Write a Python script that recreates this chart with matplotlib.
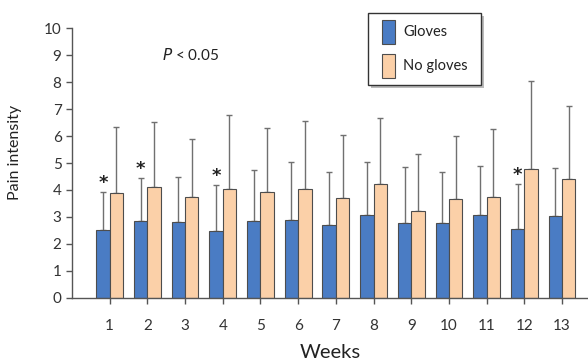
import numpy as np
import matplotlib.pyplot as plt
from matplotlib.patches import Rectangle

weeks = [1, 2, 3, 4, 5, 6, 7, 8, 9, 10, 11, 12, 13]
gloves = [2.51, 2.85, 2.82, 2.49, 2.85, 2.88, 2.69, 3.06, 2.78, 2.78, 3.07, 2.55, 3.02]
gloves_err = [1.42, 1.58, 1.67, 1.68, 1.88, 2.15, 1.98, 1.99, 2.08, 1.89, 1.82, 1.67, 1.81]
no_gloves = [3.87, 4.11, 3.73, 4.05, 3.91, 4.05, 3.69, 4.22, 3.23, 3.65, 3.75, 4.78, 4.41]
no_gloves_err = [2.48, 2.42, 2.15, 2.73, 2.40, 2.52, 2.35, 2.45, 2.12, 2.36, 2.51, 3.28, 2.71]
signif = [1, 2, 4, 12]

plt.rcParams['font.family'] = ['Lato', 'DejaVu Sans']

fig = plt.figure(figsize=(5.88, 3.62), dpi=100)
ax = fig.add_axes([0.1224, 0.1776, 0.8776, 0.744])

x = np.array(weeks)
w = 0.355
blue = '#4a7cc4'
orange = '#fbd0a8'
edge = '#4d4d4d'

ax.bar(x - w/2, gloves, w, color=blue, edgecolor=edge, linewidth=0.8, zorder=2)
ax.bar(x + w/2, no_gloves, w, color=orange, edgecolor=edge, linewidth=0.8, zorder=2)
ax.errorbar(x - w/2, gloves, yerr=[np.zeros(len(x)), gloves_err], fmt='none',
            ecolor='#707070', elinewidth=1, capsize=2, capthick=1, zorder=1)
ax.errorbar(x + w/2, no_gloves, yerr=[np.zeros(len(x)), no_gloves_err], fmt='none',
            ecolor='#707070', elinewidth=1, capsize=2, capthick=1, zorder=1)

for wk in signif:
    i = weeks.index(wk)
    ax.text(wk - w/2, gloves[i] + gloves_err[i] + 0.34, '*', ha='center', va='center',
            fontsize=13, fontweight='bold', color='#222222', family='DejaVu Sans')

ax.text(2.39, 9.0, '$\\it{P}$ < 0.05', fontsize=11, color='#222222', va='center')

ax.set_xlim(0, 13.69)
ax.set_ylim(0, 10)
ax.set_xticks(weeks)
ax.set_yticks(range(0, 11))
ax.tick_params(axis='both', colors='#555555', labelcolor='#333333', labelsize=11,
               length=4, width=1)
ax.tick_params(axis='x', pad=11)
for s in ['top', 'right']:
    ax.spines[s].set_visible(False)
for s in ['left', 'bottom']:
    ax.spines[s].set_color('#555555')
    ax.spines[s].set_linewidth(1)

ax.set_ylabel('Pain intensity', fontsize=11.5, color='#222222')
ax.yaxis.set_label_coords(-0.097, 0.54)
ax.set_xlabel('Weeks', fontsize=14.5, color='#222222')
ax.xaxis.set_label_coords(0.5, -0.172)

# legend box with shadow
lx, ly, lw, lh = 368/588, 1 - 85/362, 113/588, 72/362
fig.patches.append(Rectangle((lx + 3/588, ly - 3/362), lw, lh, transform=fig.transFigure,
                             facecolor='#bbbbbb', edgecolor='none', zorder=3))
fig.patches.append(Rectangle((lx, ly), lw, lh, transform=fig.transFigure,
                             facecolor='white', edgecolor='#333333', linewidth=1, zorder=4))
for j, (lab, col) in enumerate([('Gloves', blue), ('No gloves', orange)]):
    top = 20 + 34 * j
    fig.patches.append(Rectangle((382/588, 1 - (top + 24)/362), 13/588, 24/362,
                                 transform=fig.transFigure, facecolor=col, edgecolor=edge,
                                 linewidth=0.8, zorder=5))
    fig.text(403/588, 1 - (top + 12)/362, lab, fontsize=10.5, va='center',
             color='#222222', zorder=6)

fig.savefig('out.png', dpi=100)
